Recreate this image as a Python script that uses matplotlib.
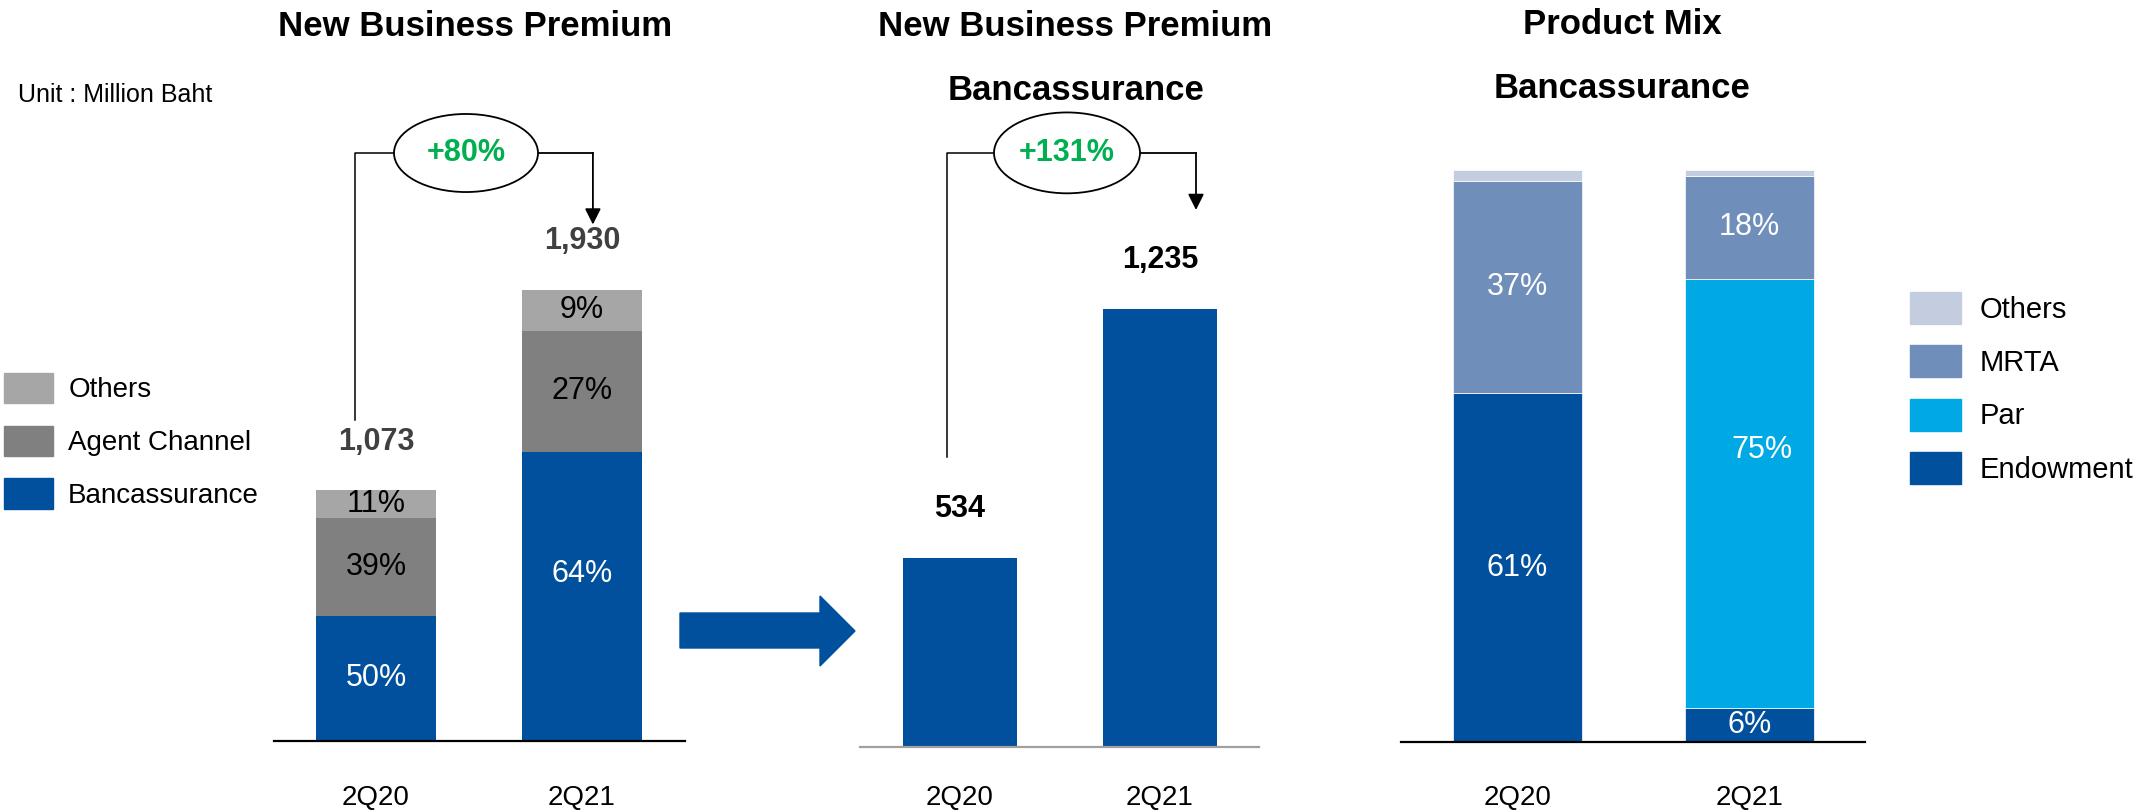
import numpy as np
import matplotlib.pyplot as plt
from matplotlib.patches import Ellipse, Polygon, Patch

plt.rcParams['font.family'] = ['Liberation Sans', 'DejaVu Sans']

periods = ['2Q20', '2Q21']

# total new business premium (million baht) and split by channel (%)
nbp_total = [1073, 1930]
banca_pct = [50, 64]
agent_pct = [39, 27]
other_pct = [11, 9]

# new business premium from bancassurance (million baht)
banca_nbp = [534, 1235]

# bancassurance product mix (%)
endow_pct = [61, 6]
par_pct = [0, 75]
mrta_pct = [37, 18]
mix_other_pct = [2, 1]

BLUE = '#00509E'
GRAY = '#808080'
LGRAY = '#A6A6A6'
MRTA = '#6F8EBA'
PAR = '#00A9E4'
PALE = '#C4CDE0'
GREEN = '#00B050'

W, H = 2151, 810
fig = plt.figure(figsize=(W / 100, H / 100), dpi=100)


def px_axes(x0, x1, base, pad):
    # axes spanning x0..x1 (pixels), with the x axis sitting at y = base
    ax = fig.add_axes([x0 / W, (H - base) / H, (x1 - x0) / W, base / H])
    ax.set_facecolor('none')
    for s in ['top', 'left', 'right']:
        ax.spines[s].set_visible(False)
    ax.spines['bottom'].set_linewidth(1.6)
    ax.set_yticks([])
    ax.tick_params(axis='x', length=0, labelsize=20, pad=pad)
    return ax


def growth(ax, label, xl, y0, yc, cx, w, h, xr, y1):
    # bracket from the first bar, through the ellipse, arrowing down to the second
    ax.plot([xl, xl, cx - w / 2], [y0, yc, yc], color='black', lw=1.1,
            clip_on=False)
    ax.plot([cx + w / 2, xr], [yc, yc], color='black', lw=1.3, clip_on=False)
    ax.add_patch(Ellipse((cx, yc), w, h, fc='white', ec='black', lw=1.3,
                         clip_on=False, zorder=3))
    ax.annotate('', xy=(xr, y1), xytext=(xr, yc),
                arrowprops=dict(arrowstyle='-|>', color='black', lw=1.3,
                                mutation_scale=24, shrinkA=0, shrinkB=0))
    ax.text(cx, yc, label, ha='center', va='center', color=GREEN,
            fontsize=22, fontweight='bold', zorder=4)


x = np.arange(len(periods))

# ---- total NBP by channel ----
ax1 = px_axes(274, 685, 741, 32)
ax1.set_xlim(-0.495, 1.5)
ax1.set_ylim(0, 741 / 0.2337)
tot = np.array(nbp_total, dtype=float)
bottom = np.zeros(len(x))
handles1 = []
for pct, col, name, tc in [(banca_pct, BLUE, 'Bancassurance', 'white'),
                           (agent_pct, GRAY, 'Agent Channel', 'black'),
                           (other_pct, LGRAY, 'Others', 'black')]:
    hgt = tot * np.array(pct) / 100
    bars = ax1.bar(x, hgt, 0.578, bottom=bottom, color=col, label=name)
    labs = ax1.bar_label(bars, labels=[f'{p}%' for p in pct],
                         label_type='center', color=tc, fontsize=22)
    if name == 'Bancassurance':
        labs[1].xyann = (0, 16)   # 64% sits a little above centre
    bottom += hgt
    handles1.append(Patch(color=col, label=name))
for xi, v in zip(x, nbp_total):
    ax1.annotate(f'{v:,}', (xi, v), xytext=(0, 35), textcoords='offset points',
                 ha='center', va='center', fontsize=22, fontweight='bold',
                 color='#404040')
ax1.set_xticks(x, periods)
g1 = round((nbp_total[1] / nbp_total[0] - 1) * 100)
growth(ax1, f'+{g1}%', -0.102, nbp_total[0] + 300, 2516, 0.437, 0.699, 334,
       1.053, nbp_total[1] + 280)

# ---- bancassurance NBP ----
ax2 = px_axes(860, 1259, 747, 27)
ax2.spines['bottom'].set_color('#A0A0A0')
ax2.set_xlim(-0.5, 1.495)
ax2.set_ylim(0, 747 / 0.3547)
ax2.bar(x, banca_nbp, 0.57, color=BLUE)
for xi, v in zip(x, banca_nbp):
    ax2.annotate(f'{v:,}', (xi, v), xytext=(0, 35), textcoords='offset points',
                 ha='center', va='center', fontsize=22, fontweight='bold',
                 color='black')
ax2.set_xticks(x, periods)
g2 = round((banca_nbp[1] / banca_nbp[0] - 1) * 100)
growth(ax2, f'+{g2}%', -0.065, banca_nbp[0] + 284, 1675, 0.535, 0.73, 228,
       1.18, banca_nbp[1] + 279)

# ---- bancassurance product mix ----
ax3 = px_axes(1401, 1865, 742, 31)
ax3.set_xlim(-0.502, 1.498)
ax3.set_ylim(0, 742 / 5.72)
bottom = np.zeros(len(x))
handles3 = []
for pct, col, name in [(endow_pct, BLUE, 'Endowment'),
                       (par_pct, PAR, 'Par'),
                       (mrta_pct, MRTA, 'MRTA'),
                       (mix_other_pct, PALE, 'Others')]:
    hgt = np.array(pct, dtype=float)
    bars = ax3.bar(x, hgt, 0.556, bottom=bottom, color=col,
                   edgecolor='white', linewidth=0.5)
    labs = ax3.bar_label(bars, labels=[f'{p}%' if p >= 5 else '' for p in pct],
                         label_type='center', color='white', fontsize=22)
    if name == 'Par':
        labs[1].xyann = (9, 31)   # 75% placed in the upper part of the bar
    bottom += hgt
    handles3.append(Patch(color=col, label=name))
ax3.set_xticks(x, periods)

# legends
leg_kw = dict(loc='upper left', frameon=False, borderpad=0, borderaxespad=0,
              handlelength=1.76, handleheight=1.3)
fig.legend(handles=handles1[::-1], bbox_to_anchor=(4 / W, 1 - 373 / H),
           handletextpad=0.55, labelspacing=0.8, fontsize=20, **leg_kw)
fig.legend(handles=handles3[::-1], bbox_to_anchor=(1910 / W, 1 - 292 / H),
           handletextpad=0.62, labelspacing=0.74, fontsize=21, **leg_kw)

# big arrow between the first two panels
arrow_px = [(680, 613), (820, 613), (820, 596), (855, 631), (820, 666),
            (820, 648), (680, 648)]
fig.add_artist(Polygon([(px / W, 1 - py / H) for px, py in arrow_px],
                       closed=True, color=BLUE, transform=fig.transFigure))

# titles
tkw = dict(ha='center', va='center', fontsize=25, fontweight='bold')
fig.text(475 / W, 1 - 26 / H, 'New Business Premium', **tkw)
fig.text(1075 / W, 1 - 26 / H, 'New Business Premium', **tkw)
fig.text(1076 / W, 1 - 91 / H, 'Bancassurance', **tkw)
fig.text(1622 / W, 1 - 25 / H, 'Product Mix', **tkw)
fig.text(1622 / W, 1 - 88 / H, 'Bancassurance', **tkw)
fig.text(18 / W, 1 - 95 / H, 'Unit : Million Baht', ha='left', va='center',
         fontsize=18)

fig.savefig('out.png', dpi=100)
